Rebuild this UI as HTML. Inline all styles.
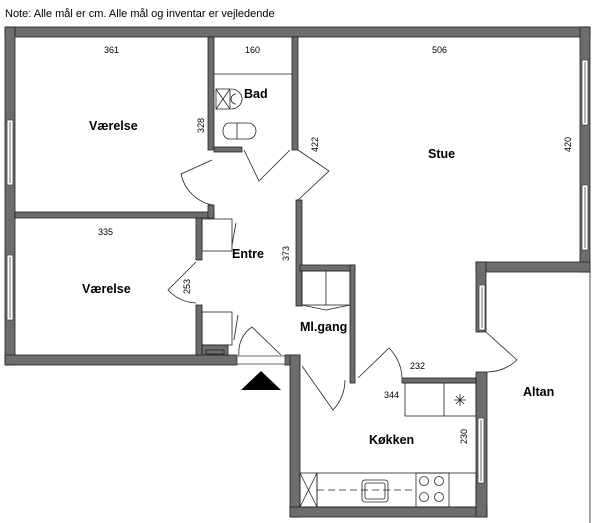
<!DOCTYPE html>
<html><head><style>
html,body{margin:0;padding:0;background:#fff;width:600px;height:523px;overflow:hidden}
svg{display:block}
text{font-family:"Liberation Sans","DejaVu Sans",sans-serif}
</style></head><body>
<svg width="600" height="523" viewBox="0 0 600 523" xmlns="http://www.w3.org/2000/svg">
<text x="5" y="17" font-size="11" fill="#000">Note: Alle mål er cm. Alle mål og inventar er vejledende</text>
<g fill="#6d6d6d" stroke="#222" stroke-width="0.8">
<rect x="5" y="27" width="585" height="10"/>
<rect x="5" y="27" width="10" height="338"/>
<rect x="5" y="355" width="232" height="10"/>
<rect x="285" y="355" width="15" height="10"/>
<rect x="290" y="355" width="10" height="162"/>
<rect x="290" y="507" width="197" height="10"/>
<rect x="476" y="372" width="11" height="145"/>
<rect x="580" y="27" width="10" height="245"/>
<rect x="476" y="262" width="114" height="10"/>
<rect x="476" y="262" width="10" height="70"/>
<rect x="208" y="37" width="6" height="113"/>
<rect x="292" y="37" width="6" height="113"/>
<rect x="214" y="147" width="28" height="5"/>
<rect x="15" y="212" width="199" height="6"/>
<rect x="208" y="205" width="6" height="13"/>
<rect x="196" y="218" width="6" height="42"/>
<rect x="196" y="305" width="6" height="50"/>
<rect x="202" y="345" width="26" height="10"/>
<rect x="296" y="200" width="6" height="106"/>
<rect x="300" y="265" width="55" height="6"/>
<rect x="350" y="265" width="5" height="118"/>
<rect x="402" y="378" width="74" height="5"/>
</g>
<g fill="#fff" stroke="#444" stroke-width="0.8">
<rect x="7" y="120" width="6" height="65"/><line x1="10" y1="122" x2="10" y2="183"/>
<rect x="7" y="255" width="6" height="65"/><line x1="10" y1="257" x2="10" y2="318"/>
<rect x="582" y="60" width="6" height="65"/><line x1="585" y1="62" x2="585" y2="123"/>
<rect x="582" y="185" width="6" height="65"/><line x1="585" y1="187" x2="585" y2="248"/>
<rect x="479" y="285" width="6" height="45"/><line x1="482" y1="287" x2="482" y2="328"/>
<rect x="478" y="418" width="6" height="65"/><line x1="481" y1="420" x2="481" y2="481"/>
<rect x="237" y="356" width="48" height="8"/>
</g>
<g fill="none" stroke="#222" stroke-width="0.8">
<line x1="214" y1="74" x2="292" y2="74"/>
<line x1="590" y1="272" x2="590" y2="523"/>
<rect x="216" y="89" width="14" height="20"/><line x1="216" y1="89" x2="230" y2="109"/><line x1="230" y1="89" x2="216" y2="109"/>
<path d="M231 89 A11 10 0 0 1 231 109"/><path d="M236 94 A5 5 0 0 0 236 104"/>
<path d="M229 123 L248 123 A8 8 0 0 1 248 139 L229 139 A6 8 0 0 1 229 123 Z"/><line x1="237" y1="123" x2="237" y2="139"/>
<path d="M212 160 L181 174 A40 40 0 0 0 212 205"/>
<path d="M244 150 L259 181 L290 150"/>
<path d="M298 150 L329 171 L298 200"/>
<path d="M196 262 L168 290 A40 40 0 0 0 196 303"/>
<path d="M302 366 L333 410 A45 45 0 0 0 345 380"/>
<path d="M358 378 L389 348 A45 45 0 0 1 402 378"/>
<path d="M486 332 L517 360 A45 45 0 0 1 487 372"/>
<path d="M239 355 A30 30 0 0 1 252 327 L281 355"/>
<rect x="202" y="219" width="30" height="32"/><line x1="236" y1="223" x2="232" y2="245"/>
<rect x="202" y="312" width="30" height="33"/><line x1="238" y1="315" x2="234" y2="340"/>
<rect x="302" y="271" width="48" height="34"/><line x1="326" y1="271" x2="326" y2="305"/>
<path d="M302 305 L326 310 L350 305"/>
<rect x="206" y="350" width="18" height="4"/>
<rect x="405" y="383" width="71" height="33"/><line x1="444" y1="383" x2="444" y2="416"/>
<path d="M454 400 h12 M460 394 v12 M456 396 l8 8 M464 396 l-8 8"/>
<rect x="317" y="473" width="159" height="34"/>
<rect x="300" y="473" width="17" height="34"/><line x1="300" y1="473" x2="317" y2="507"/><line x1="317" y1="473" x2="300" y2="507"/>
<line x1="317" y1="490" x2="416" y2="490" stroke-dasharray="7,4"/>
<rect x="362" y="480" width="26" height="22" rx="3"/><rect x="365" y="483" width="20" height="16" rx="2"/>
<rect x="416" y="473" width="33" height="34"/>
<circle cx="424" cy="481" r="4.5"/><circle cx="439" cy="481" r="4.5"/><circle cx="424" cy="497" r="4.5"/><circle cx="439" cy="497" r="4.5"/>
</g>
<polygon points="241,390 261,371 281,390" fill="#000"/>
<g font-size="9" fill="#000">
<text x="104" y="53">361</text><text x="245" y="53">160</text><text x="432" y="53">506</text>
<text x="98" y="235">335</text><text x="410" y="369">232</text><text x="384" y="398">344</text>
<text transform="translate(204,133) rotate(-90)">328</text>
<text transform="translate(318,152) rotate(-90)">422</text>
<text transform="translate(571,152) rotate(-90)">420</text>
<text transform="translate(289,261) rotate(-90)">373</text>
<text transform="translate(190,294) rotate(-90)">253</text>
<text transform="translate(467,444) rotate(-90)">230</text>
</g>
<g font-size="12.5" font-weight="bold" fill="#000">
<text x="89" y="130">Værelse</text><text x="82" y="293">Værelse</text>
<text x="244" y="98">Bad</text><text x="428" y="158">Stue</text>
<text x="232" y="258">Entre</text><text x="300" y="331">Ml.gang</text>
<text x="369" y="444">Køkken</text><text x="523" y="396">Altan</text>
</g>
</svg>
</body></html>
